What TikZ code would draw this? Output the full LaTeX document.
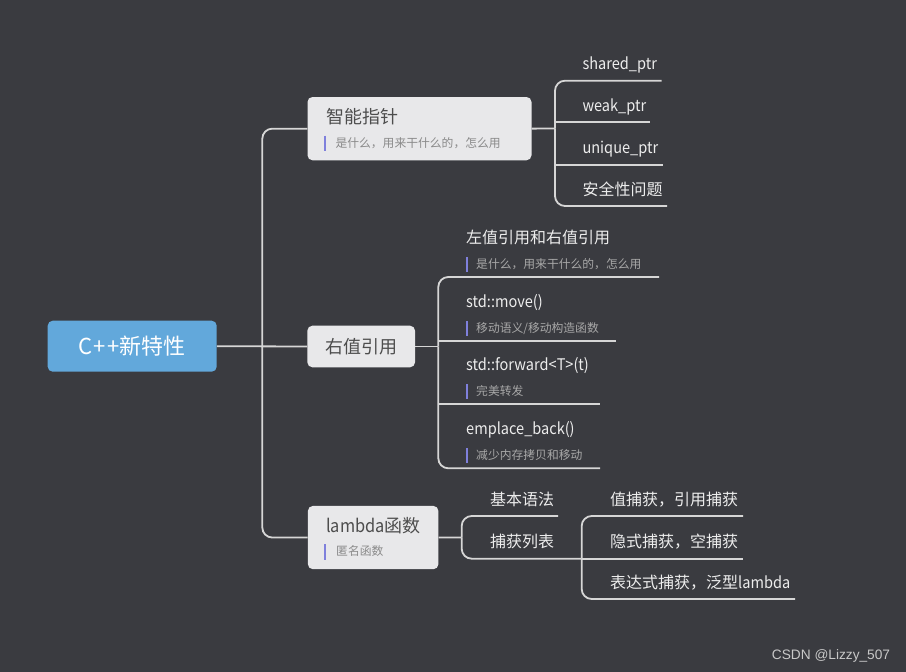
\documentclass[tikz,border=0pt]{standalone}
\usepackage{fontspec}
\setmainfont{Noto Sans CJK SC}
\newfontfamily\latn[FakeStretch=0.91]{Noto Sans CJK SC}
\newfontfamily\wmfont{Liberation Sans}
\definecolor{bgc}{HTML}{3A3B40}
\definecolor{linec}{HTML}{D6D6D6}
\definecolor{rootc}{HTML}{62A8DB}
\definecolor{boxc}{HTML}{E8E8EA}
\definecolor{boxtxt}{HTML}{4D4D4D}
\definecolor{boxsub}{HTML}{8A8A8A}
\definecolor{lbltxt}{HTML}{EDEDED}
\definecolor{subtxt}{HTML}{A8A8A8}
\definecolor{barc}{HTML}{7F80DC}
\definecolor{wmc}{HTML}{C8C8C8}
\begin{document}
\begin{tikzpicture}[x=1pt,y=-1pt,
  conn/.style={draw=linec, line width=1.8pt},
  bracket/.style={conn, rounded corners=10pt},
  topicbox/.style={fill=boxc, rounded corners=5pt, inner sep=0pt},
  intitle/.style={anchor=base west, inner sep=0pt, text=boxtxt, font=\fontsize{18}{21}\selectfont},
  insub/.style={anchor=base west, inner sep=0pt, text=boxsub, font=\fontsize{11.8}{14}\selectfont},
  lbl/.style={anchor=base west, inner sep=0pt, text=lbltxt, font=\fontsize{16}{19}\selectfont},
  sublbl/.style={anchor=base west, inner sep=0pt, text=subtxt, font=\fontsize{11.8}{14}\selectfont},
  bar/.style={draw=barc, line width=2pt}
]
\fill[bgc] (0,0) rectangle (906,672);
\useasboundingbox (0,0) rectangle (906,672);

% root
\node[fill=rootc, rounded corners=5pt, minimum width=169pt, minimum height=51pt, inner sep=0pt,
      text=white, font=\fontsize{22}{26}\selectfont] (root) at (132.2,346.2) {C{\hspace{1pt}}+{\hspace{1pt}}+新特性};

% main topics
\node[topicbox, anchor=north west, minimum width=224pt, minimum height=63.3pt] (smart) at (307.3,96.8) {};
\node[intitle] (smart-t) at (326,123.8) {智能指针};
\draw[bar] (325,135.7) coordinate (smart-b1) -- (325,151) coordinate (smart-b2);
\node[insub] (smart-s) at (335.3,147) {是什么，用来干什么的，怎么用};

\node[topicbox, minimum width=107.7pt, minimum height=41.6pt, text=boxtxt, font=\fontsize{18}{21}\selectfont] (rv) at (361.2,346.5) {右值引用};

\node[topicbox, anchor=north west, minimum width=130.5pt, minimum height=63.3pt] (lam) at (307.7,505.7) {};
\node[intitle] (lam-t) at (326,532) {{\latn lambda}函数};
\draw[bar] (325,544) coordinate (lam-b1) -- (325,560) coordinate (lam-b2);
\node[insub] (lam-s) at (336,555.5) {匿名函数};

% trunk
\coordinate (trunk) at (262.3,346.2);
\draw[conn] (root.east) -- (rv.west);
\draw[bracket] (trunk) |- (smart.west);
\draw[bracket] (trunk) |- (lam.west);

% smart pointer branches
\coordinate (sj) at (555,128.4);
\draw[conn] (smart.east) -- (sj);
\coordinate (u-shared) at (661.7,80.7);
\coordinate (s-weak) at (555,122);
\coordinate (u-weak) at (650,122);
\coordinate (s-unique) at (555,164.7);
\coordinate (u-unique) at (662.7,164.7);
\coordinate (u-safe) at (667,206);
\draw[bracket] (sj) |- (u-shared);
\draw[conn] (s-weak) -- (u-weak);
\draw[conn] (s-unique) -- (u-unique);
\draw[bracket] (sj) |- (u-safe);
\node[lbl] (t-shared) at (582.3,69.7) {\latn shared\_ptr};
\node[lbl] (t-weak) at (582.3,111) {\latn weak\_ptr};
\node[lbl] (t-unique) at (582.3,153.7) {\latn unique\_ptr};
\node[lbl] (t-safe) at (582.3,195) {安全性问题};

% rvalue branches
\coordinate (rj) at (438.3,346.5);
\draw[conn] (rv.east) -- (rj);
\coordinate (u-lr) at (659,277);
\coordinate (s-move) at (438.3,340.8);
\coordinate (u-move) at (616,340.8);
\coordinate (s-fwd) at (438.3,404);
\coordinate (u-fwd) at (600,404);
\coordinate (u-emp) at (600,468.3);
\draw[bracket] (rj) |- (u-lr);
\draw[conn] (s-move) -- (u-move);
\draw[conn] (s-fwd) -- (u-fwd);
\draw[bracket] (rj) |- (u-emp);

\node[lbl] (t-lr) at (466,243.8) {左值引用和右值引用};
\draw[bar] (466.7,257) coordinate (lr-b1) -- (466.7,272) coordinate (lr-b2);
\node[sublbl] (s-lr) at (476,268.2) {是什么，用来干什么的，怎么用};

\node[lbl] (t-move) at (466,307.3) {\latn std::move()};
\draw[bar] (466.7,320.8) coordinate (mv-b1) -- (466.7,335.8) coordinate (mv-b2);
\node[sublbl] (ss-move) at (476,332) {移动语义/移动构造函数};

\node[lbl] (t-fwd) at (466,370.5) {\latn std::forward<T>(t)};
\draw[bar] (466.7,384) coordinate (fw-b1) -- (466.7,399) coordinate (fw-b2);
\node[sublbl] (ss-fwd) at (476,395.2) {完美转发};

\node[lbl] (t-emp) at (466,434.8) {\latn emplace\_back()};
\draw[bar] (466.7,448.3) coordinate (em-b1) -- (466.7,463.3) coordinate (em-b2);
\node[sublbl] (ss-emp) at (476,459.5) {减少内存拷贝和移动};

% lambda branches
\coordinate (lj) at (461.7,537.4);
\draw[conn] (lam.east) -- (lj);
\coordinate (u-basic) at (558,516);
\coordinate (u-cap) at (581.7,558.7);
\draw[bracket] (lj) |- (u-basic);
\draw[bracket] (lj) |- (u-cap);
\node[lbl] (t-basic) at (490,505) {基本语法};
\node[lbl] (t-cap) at (490,547.7) {捕获列表};

\coordinate (u-val) at (743,516);
\coordinate (u-imp) at (743,558.7);
\coordinate (u-expr) at (795,599);
\draw[bracket] (u-cap) |- (u-val);
\draw[conn] (u-cap) -- (u-imp);
\draw[bracket] (u-cap) |- (u-expr);
\node[lbl] (t-val) at (610,505) {值捕获，引用捕获};
\node[lbl] (t-imp) at (610,547.7) {隐式捕获，空捕获};
\node[lbl] (t-expr) at (610,588) {表达式捕获，泛型{\latn lambda}};

% watermark
\node[anchor=base west, inner sep=0pt, text=wmc, font=\wmfont\fontsize{13.7}{16}\selectfont] (wm) at (771.7,659) {CSDN @Lizzy\_507};
\end{tikzpicture}
\end{document}
